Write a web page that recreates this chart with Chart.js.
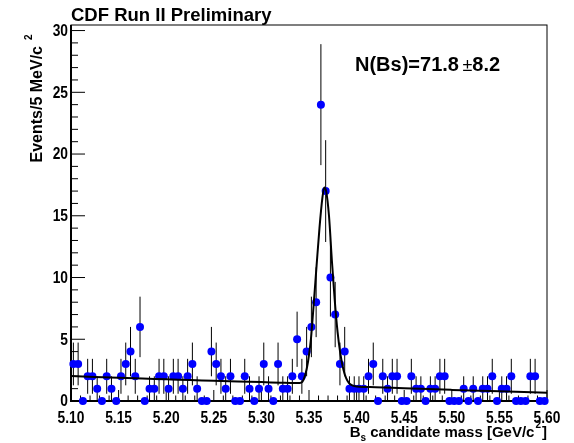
<!DOCTYPE html>
<html>
<head>
<meta charset="utf-8">
<script src="https://cdn.jsdelivr.net/npm/chart.js@4.4.1/dist/chart.umd.min.js"></script>
<style>
  html, body { margin: 0; background: #fff; }
  canvas { display: block; }
</style>
</head>
<body>
<canvas id="massChart" width="574" height="443"></canvas>
<script>
/* DATA */
const binLow = 5.1;
const binWidth = 0.005;
// events per 5 MeV bin, 5.100 .. 5.600
const counts = [
  3, 3, 0, 2, 2, 1, 0, 2, 1, 0,
  2, 3, 4, 2, 6, 0, 1, 1, 2, 2,
  1, 2, 2, 1, 2, 3, 1, 0, 0, 4,
  3, 2, 1, 2, 0, 0, 2, 1, 0, 1,
  3, 1, 0, 3, 1, 1, 2, 5, 2, 4,
  6, 8, 24, 17, 10, 7, 3, 4, 1, 1,
  1, 1, 2, 3, 0, 2, 1, 2, 2, 0,
  0, 2, 1, 1, 0, 1, 1, 2, 2, 0,
  0, 0, 1, 0, 1, 0, 1, 1, 2, 0,
  1, 1, 2, 0, 0, 0, 2, 2, 0, 0,
];
// fit curve
const fitMass = [
  5.1, 5.125, 5.15, 5.175, 5.2, 5.225, 5.25, 5.275, 5.3, 5.32, 5.335,
  5.34, 5.343, 5.346, 5.349, 5.352, 5.355, 5.358, 5.361, 5.364, 5.366,
  5.368, 5.371, 5.374, 5.377, 5.38, 5.383, 5.386, 5.389, 5.392, 5.396,
  5.4, 5.42, 5.45, 5.5, 5.55, 5.6,
];
const fitValue = [
  2.02, 1.95, 1.88, 1.82, 1.76, 1.7, 1.64, 1.58, 1.53, 1.48, 1.45,
  1.46, 1.55, 2.1, 3.2, 5.0, 7.9, 11.0, 14.0, 16.4, 17.3,
  17.0, 15.0, 11.4, 8.2, 5.6, 3.8, 2.6, 1.85, 1.45, 1.25,
  1.18, 1.12, 1.03, 0.9, 0.78, 0.67,
];
const xTickLabels = ["5.10", "5.15", "5.20", "5.25", "5.30", "5.35", "5.40", "5.45", "5.50", "5.55", "5.60"];
const yTickLabels = ["0", "5", "10", "15", "20", "25", "30"];

const binCenters = counts.map((n, i) => binLow + binWidth * (i + 0.5));
const points = counts.map((n, i) => ({ x: binCenters[i], y: n }));
const fitPoints = fitMass.map((m, i) => ({ x: m, y: fitValue[i] }));

const FONT = "'Liberation Sans', Arial, Helvetica, sans-serif";

/* TEXT HELPER */
function txt(ctx, s, x, y, font, align, sx) {
  ctx.save();
  ctx.translate(x, y);
  ctx.scale(sx || 1, 1);
  ctx.font = font;
  ctx.textAlign = align || "left";
  ctx.fillText(s, 0, 0);
  ctx.restore();
}

/* FRAME, TICKS, LABELS */
const frame = {
  id: "frame",
  beforeDatasetsDraw(chart) {
    const { ctx, chartArea: a, scales: { x, y } } = chart;
    ctx.save();
    ctx.strokeStyle = "#000";
    ctx.lineWidth = 1;
    ctx.strokeRect(a.left, a.top, a.right - a.left, a.bottom - a.top);
    ctx.lineWidth = 2;
    ctx.beginPath();
    ctx.moveTo(a.left, a.top);
    ctx.lineTo(a.left, a.bottom);
    ctx.lineTo(a.right, a.bottom);
    ctx.stroke();

    // x ticks, every 10 MeV, long every 50 MeV
    ctx.lineWidth = 1;
    ctx.beginPath();
    for (let i = 0; i <= 50; i++) {
      const px = x.getPixelForValue(5.1 + i * 0.01);
      const len = i % 5 === 0 ? 11 : 5.5;
      ctx.moveTo(px, a.bottom);
      ctx.lineTo(px, a.bottom - len);
    }
    // y ticks, every 1, long every 5
    for (let v = 0; v <= 30; v++) {
      const py = y.getPixelForValue(v);
      const len = v % 5 === 0 ? 14 : 7;
      ctx.moveTo(a.left, py);
      ctx.lineTo(a.left + len, py);
    }
    ctx.stroke();
    ctx.restore();
  },
  afterDraw(chart) {
    const { ctx, chartArea: a, scales: { x, y } } = chart;
    ctx.save();
    ctx.fillStyle = "#000";
    ctx.textBaseline = "alphabetic";
    const tickFont = "bold 16px " + FONT;

    xTickLabels.forEach((l) => {
      txt(ctx, l, x.getPixelForValue(parseFloat(l)), 423, tickFont, "center", 0.86);
    });
    ctx.textBaseline = "middle";
    yTickLabels.forEach((l) => {
      txt(ctx, l, 68, y.getPixelForValue(parseFloat(l)) + 1, tickFont, "right", 0.86);
    });
    ctx.textBaseline = "alphabetic";

    // title
    txt(ctx, "CDF Run II Preliminary", 71, 21, "bold 18.5px " + FONT, "left");

    // signal yield
    const big = "bold 20px " + FONT;
    ctx.font = big;
    const p1 = "N(Bs)=71.8 ";
    const w1 = ctx.measureText(p1).width;
    txt(ctx, p1, 355, 71, big, "left");
    ctx.font = "18px " + FONT;
    const wpm = ctx.measureText("\u00b1").width;
    txt(ctx, "\u00b1", 355 + w1 - 2, 71, "18px " + FONT, "left");
    txt(ctx, "8.2", 355 + w1 - 2 + wpm, 71, big, "left");

    // x axis title: B_s candidate mass [GeV/c^2]
    const tf = "bold 15px " + FONT;
    const sf = "bold 10px " + FONT;
    ctx.font = tf;
    const wB = ctx.measureText("B").width;
    const wMid = ctx.measureText(" candidate mass [GeV/c").width;
    const wEnd = ctx.measureText("]").width;
    ctx.font = sf;
    const wS = ctx.measureText("s").width;
    const w2 = ctx.measureText("2").width;
    let cx = a.right - (wB + wS + wMid + w2 + 2 + wEnd);
    txt(ctx, "B", cx, 437, tf); cx += wB;
    txt(ctx, "s", cx, 441, sf); cx += wS;
    txt(ctx, " candidate mass [GeV/c", cx, 437, tf); cx += wMid + 1;
    txt(ctx, "2", cx, 428, sf); cx += w2 + 1;
    txt(ctx, "]", cx, 437, tf);

    // y axis title: Events/5 MeV/c^2 (rotated, top aligned)
    const yf = "bold 16px " + FONT;
    ctx.save();
    ctx.translate(42, 46);
    ctx.rotate(-Math.PI / 2);
    ctx.font = yf;
    ctx.textAlign = "right";
    ctx.fillText("Events/5 MeV/c", 0, 0);
    ctx.font = sf;
    ctx.textAlign = "left";
    ctx.fillText("2", 6, -10);
    ctx.restore();

    ctx.restore();
  },
};

/* ERROR BARS (sqrt N) */
const errorBars = {
  id: "errorBars",
  beforeDatasetsDraw(chart) {
    const { ctx, scales: { x, y } } = chart;
    ctx.save();
    ctx.strokeStyle = "#000";
    ctx.lineWidth = 1;
    counts.forEach((n, i) => {
      if (n <= 0) return;
      const err = Math.sqrt(n);
      const px = x.getPixelForValue(binCenters[i]);
      ctx.beginPath();
      ctx.moveTo(px, y.getPixelForValue(n - err));
      ctx.lineTo(px, y.getPixelForValue(n + err));
      ctx.stroke();
    });
    ctx.restore();
  },
};

/* CHART */
new Chart(document.getElementById("massChart"), {
  type: "scatter",
  data: {
    datasets: [
      {
        data: points,
        backgroundColor: "#0000ff",
        borderWidth: 0,
        pointRadius: 4,
        pointHoverRadius: 4,
        clip: false,
        order: 2,
      },
      {
        type: "line",
        data: fitPoints,
        borderColor: "#000",
        borderWidth: 2,
        pointRadius: 0,
        showLine: true,
        fill: false,
        cubicInterpolationMode: "monotone",
        order: 1,
      },
    ],
  },
  options: {
    responsive: false,
    animation: false,
    devicePixelRatio: 1,
    layout: { padding: { left: 71, right: 27, top: 25, bottom: 42 } },
    plugins: { legend: { display: false }, tooltip: { enabled: false } },
    scales: {
      x: { type: "linear", min: 5.1, max: 5.6, display: false },
      y: { type: "linear", min: 0, max: 30.45, display: false },
    },
  },
  plugins: [frame, errorBars],
});
</script>
</body>
</html>
